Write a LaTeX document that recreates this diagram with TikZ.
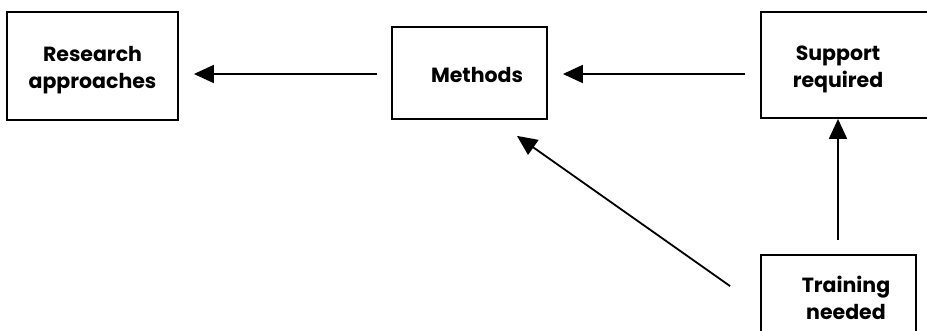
\documentclass[tikz,border=0pt]{standalone}
\usepackage{fontspec}
\setmainfont{Poppins}
\usetikzlibrary{arrows.meta}
\begin{document}
\begin{tikzpicture}[x=1pt,y=-1pt,
  box/.style={draw=black,line width=1.8pt,rectangle,inner sep=0pt},
  lbl/.style={font=\fontsize{20.5}{27}\selectfont\bfseries,align=center,inner sep=0pt},
  arr/.style={line width=1.8pt,-{Triangle[length=20pt,width=18pt]}}]
\useasboundingbox (0,0) rectangle (927,330);
\clip (0,0) rectangle (927,330);
\node[box,minimum width=171,minimum height=108] (r) at (92.5,66) {};
\node[lbl] (rt) at (92.5,70) {Research\\approaches};
\node[box,minimum width=155,minimum height=92] (m) at (469.5,73) {};
\node[lbl] (mt) at (477,75) {Methods};
\node[box,minimum width=180,minimum height=106] (s) at (851,65) {};
\node[lbl] (st) at (838,69) {Support\\required};
\node[box,minimum width=155,minimum height=90] (t) at (838.5,300) {};
\node[lbl] (tt) at (846,298) {Training\\needed};
\coordinate (ay) at (0,74);
\draw[arr] ([xshift=-14pt]m.west |- ay) -- ([xshift=15pt]r.east |- ay);
\draw[arr] ([xshift=-15pt]s.west |- ay) -- ([xshift=15pt]m.east |- ay);
\draw[arr] ([xshift=-0.5pt,yshift=14pt]t.north) -- ([xshift=-13pt]s.south);
\draw[arr] ([shift={(-30,32)}]t.north west) -- ([shift={(47.5,16)}]m.south);
\end{tikzpicture}
\end{document}
